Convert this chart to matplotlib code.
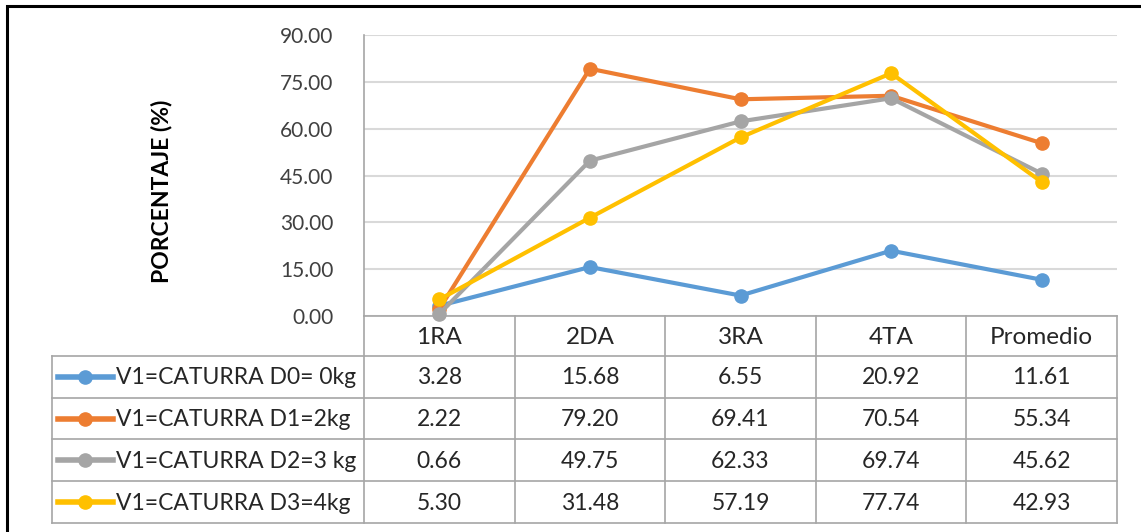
import matplotlib
matplotlib.use("Agg")
import matplotlib.pyplot as plt
from matplotlib.lines import Line2D

plt.rcParams['font.family'] = ['Lato', 'DejaVu Sans']

# datos
categorias = ["1RA", "2DA", "3RA", "4TA", "Promedio"]
series = [
    "V1=CATURRA D0= 0kg",
    "V1=CATURRA D1=2kg",
    "V1=CATURRA D2=3 kg",
    "V1=CATURRA D3=4kg",
]
d0 = [3.28, 15.68, 6.55, 20.92, 11.61]
d1 = [2.22, 79.20, 69.41, 70.54, 55.34]
d2 = [0.66, 49.75, 62.33, 69.74, 45.62]
d3 = [5.30, 31.48, 57.19, 77.74, 42.93]
valores = [d0, d1, d2, d3]
colores = ["#5B9BD5", "#ED7D31", "#A5A5A5", "#FFC000"]
yticks = [0, 15, 30, 45, 60, 75, 90]

W, H = 1141, 532
fig = plt.figure(figsize=(W / 100, H / 100), dpi=100)

# zona del grafico (en pixeles)
x0, x1 = 364, 1117
ytop, ybot = 35, 316
ax = fig.add_axes([x0 / W, 1 - ybot / H, (x1 - x0) / W, (ybot - ytop) / H])
ax.set_xlim(-0.5, len(categorias) - 0.5)
ax.set_ylim(0, 90)
ax.set_yticks(yticks)
ax.set_yticklabels(["%.2f" % v for v in yticks], fontsize=15, color="#404040")
ax.tick_params(axis="y", length=0, pad=22)
ax.set_xticks([])
ax.grid(axis="y", color="#d9d9d9", linewidth=1.5)
ax.set_axisbelow(True)
for s in ["top", "right"]:
    ax.spines[s].set_visible(False)
ax.spines["left"].set_color("#a6a6a6")
ax.spines["bottom"].set_color("#a6a6a6")
ax.spines["left"].set_linewidth(1.2)
ax.spines["bottom"].set_linewidth(1.2)

xs = range(len(categorias))
for vals, c in zip(valores, colores):
    ax.plot(xs, vals, color=c, linewidth=3, marker="o", markersize=9.5,
            clip_on=False, zorder=3)

fig.text(161 / W, 1 - 191 / H, "PORCENTAJE (%)", rotation=90, fontsize=16.5,
         fontweight="bold", ha="center", va="center", color="black")

# tabla de datos debajo del eje
tab = fig.add_axes([0, 0, 1, 1])
tab.set_xlim(0, W)
tab.set_ylim(H, 0)
tab.axis("off")
tab.patch.set_alpha(0)

gris = "#a6a6a6"
tl = 52
filas = [356, 398, 439, 481, 523]
ncol = len(categorias)
cw = (x1 - x0) / ncol
cols = [x0 + i * cw for i in range(ncol + 1)]

for y in filas:
    tab.plot([tl, x1], [y, y], color=gris, lw=1.2)
tab.plot([tl, tl], [filas[0], filas[-1]], color=gris, lw=1.2)
for x in cols:
    tab.plot([x, x], [ybot, filas[-1]], color=gris, lw=1.2)

for i, cat in enumerate(categorias):
    tab.text(cols[i] + cw / 2, (ybot + filas[0]) / 2 + 1, cat, ha="center",
             va="center", fontsize=17.5, color="#262626")

for r, (nombre, vals, c) in enumerate(zip(series, valores, colores)):
    yc = (filas[r] + filas[r + 1]) / 2
    tab.add_line(Line2D([58, 113], [yc, yc], color=c, lw=4))
    tab.plot([85], [yc], marker="o", markersize=9.5, color=c)
    tab.text(116, yc + 1, nombre, ha="left", va="center", fontsize=16.5,
             color="#262626")
    for i, v in enumerate(vals):
        tab.text(cols[i] + cw / 2, yc + 1, "%.2f" % v, ha="center",
                 va="center", fontsize=16.5, color="#262626")

# marco exterior
tab.plot([7, 7, W], [H, 6, 6], color="black", lw=2.2, solid_joinstyle="miter")

fig.savefig("out.png", dpi=100)
